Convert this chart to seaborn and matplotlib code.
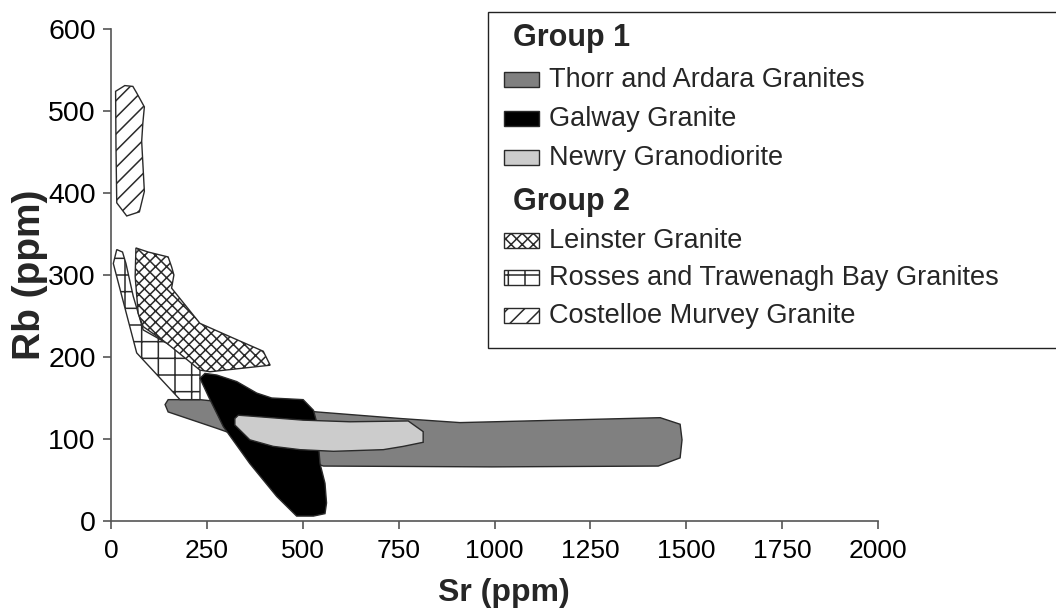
import matplotlib
matplotlib.use("Agg")
import matplotlib.pyplot as plt
import seaborn as sns
from matplotlib.patches import Rectangle

# ---- granite compositional fields (Sr ppm, Rb ppm polygon vertices) ----
THORR_SR = [141, 149, 232, 537, 754, 910, 1432, 1484, 1489, 1484, 1427, 993, 554, 276, 149]
THORR_RB = [142, 148, 148, 133, 125, 120, 126, 118, 99, 77, 67, 66, 67, 113, 133]

ROSSES_SR = [15, 30, 39, 58, 84, 145, 232, 232, 180, 67, 6]
ROSSES_RB = [331, 328, 314, 274, 233, 217, 192, 148, 148, 205, 314]

LEINSTER_SR = [65, 97, 149, 158, 164, 158, 232, 319, 397, 415, 258, 232, 145, 84, 71, 63]
LEINSTER_RB = [333, 328, 322, 310, 300, 284, 241, 223, 207, 190, 182, 184, 217, 237, 253, 298]

GALWAY_SR = [232, 245, 276, 328, 380, 419, 501, 528, 536, 545, 558, 562, 558, 528, 484, 432, 362, 293, 254]
GALWAY_RB = [174, 180, 178, 170, 156, 150, 148, 135, 121, 70, 46, 22, 9, 6, 6, 30, 70, 115, 152]

NEWRY_SR = [323, 332, 362, 501, 623, 775, 814, 814, 762, 710, 580, 493, 423, 362, 323]
NEWRY_RB = [125, 129, 128, 123, 121, 122, 109, 96, 91, 87, 85, 87, 91, 99, 117]

COSTELLOE_SR = [12, 36, 57, 67, 87, 83, 80, 84, 87, 74, 41, 15, 13]
COSTELLOE_RB = [524, 531, 530, 522, 505, 485, 463, 428, 402, 377, 372, 388, 456]

GROUP_TITLES = ["Group 1", "Group 2"]
GROUP_1 = ["Thorr and Ardara Granites", "Galway Granite", "Newry Granodiorite"]
GROUP_2 = ["Leinster Granite", "Rosses and Trawenagh Bay Granites", "Costelloe Murvey Granite"]

SR_TICKS = [0, 250, 500, 750, 1000, 1250, 1500, 1750, 2000]
RB_TICKS = [0, 100, 200, 300, 400, 500, 600]

# ---- styles ----
STYLE = {
    "Thorr and Ardara Granites": dict(facecolor="#808080", hatch=None),
    "Galway Granite": dict(facecolor="#000000", hatch=None),
    "Newry Granodiorite": dict(facecolor="#cccccc", hatch=None),
    "Leinster Granite": dict(facecolor="white", hatch="xxx"),
    "Rosses and Trawenagh Bay Granites": dict(facecolor="white", hatch="+"),
    "Costelloe Murvey Granite": dict(facecolor="white", hatch="//"),
}
EDGE = "#2a2a2a"

sns.set_style("ticks")
plt.rcParams["font.family"] = ["Liberation Sans", "DejaVu Sans"]
plt.rcParams["hatch.linewidth"] = 1.1
plt.rcParams["hatch.color"] = "black"

W, H = 1056, 611
fig = plt.figure(figsize=(W / 100, H / 100), dpi=100)
ax = fig.add_axes([111 / W, 1 - 521 / H, 767 / W, 492 / H])

# drawing order: bottom to top
fields = [
    ("Thorr and Ardara Granites", THORR_SR, THORR_RB),
    ("Rosses and Trawenagh Bay Granites", ROSSES_SR, ROSSES_RB),
    ("Leinster Granite", LEINSTER_SR, LEINSTER_RB),
    ("Galway Granite", GALWAY_SR, GALWAY_RB),
    ("Newry Granodiorite", NEWRY_SR, NEWRY_RB),
    ("Costelloe Murvey Granite", COSTELLOE_SR, COSTELLOE_RB),
]
for z, (name, sr, rb) in enumerate(fields):
    st = STYLE[name]
    ax.fill(sr, rb, facecolor=st["facecolor"], hatch=st["hatch"],
            edgecolor=EDGE, linewidth=1.0, zorder=2 + z)

ax.set_xlim(SR_TICKS[0], SR_TICKS[-1])
ax.set_ylim(RB_TICKS[0], RB_TICKS[-1])
ax.set_xticks(SR_TICKS)
ax.set_yticks(RB_TICKS)
sns.despine(ax=ax)
for side in ("left", "bottom"):
    ax.spines[side].set_color("#555555")
    ax.spines[side].set_linewidth(1.2)
ax.tick_params(axis="both", direction="out", length=6, width=1.2,
               color="#555555", labelcolor="black")
ax.tick_params(axis="x", pad=7, labelsize=19)
ax.tick_params(axis="y", pad=5, labelsize=20.5)

ax.set_xlabel("Sr (ppm)", fontsize=23, fontweight="bold", va="center")
ax.xaxis.set_label_coords(0.512, -0.146)
ax.set_ylabel("Rb (ppm)", fontsize=28, fontweight="bold", va="center")
ax.yaxis.set_label_coords(-0.106, 0.5)

# ---- grouped legend box (figure pixel positions) ----
def fx(px):
    return px / W


def fy(py):
    return 1 - py / H


fig.add_artist(Rectangle((fx(488), fy(348)), fx(1080) - fx(488), fy(12) - fy(348),
                         transform=fig.transFigure, facecolor="white",
                         edgecolor="#222222", linewidth=1.0, zorder=10))

header_base = [46, 210]
item_base = [[87, 126, 165], [248, 285, 323]]
for title, hb, names, bases in zip(GROUP_TITLES, header_base, [GROUP_1, GROUP_2], item_base):
    fig.text(fx(513), fy(hb), title, fontsize=22, fontweight="bold",
             va="baseline", ha="left", zorder=11)
    for name, b in zip(names, bases):
        st = STYLE[name]
        fig.add_artist(Rectangle((fx(504), fy(b)), 35 / W, 15 / H,
                                 transform=fig.transFigure,
                                 facecolor=st["facecolor"], hatch=st["hatch"],
                                 edgecolor=EDGE, linewidth=1.0, zorder=11))
        fig.text(fx(549), fy(b), name, fontsize=19.5, va="baseline",
                 ha="left", zorder=11)

fig.savefig("out.png", dpi=100, facecolor="white")
